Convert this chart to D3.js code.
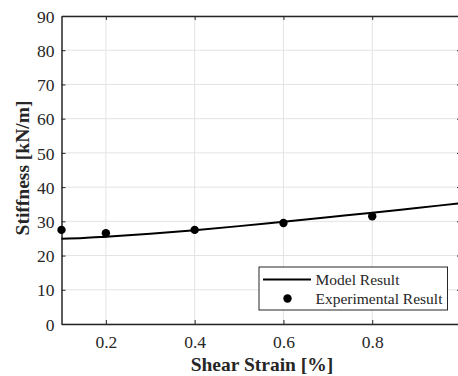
<!DOCTYPE html>
<html>
<head>
<meta charset="utf-8">
<script src="https://d3js.org/d3.v7.min.js"></script>
<style>
  body { margin: 0; background: #fff; }
  text { font-family: "Liberation Serif", "Times New Roman", serif; fill: #262626; }
</style>
</head>
<body>
<script>
// values
var modelStrain = [0.1, 0.15, 0.2, 0.3, 0.4, 0.5, 0.6, 0.7, 0.8, 0.9, 1.0];
var modelStiffness = [24.9, 25.1, 25.5, 26.4, 27.4, 28.6, 29.9, 31.2, 32.5, 33.9, 35.3];
var expStrain = [0.1, 0.2, 0.4, 0.6, 0.8];
var expStiffness = [27.5, 26.5, 27.5, 29.5, 31.5];
var xTicks = [0.2, 0.4, 0.6, 0.8];
var yTicks = [0, 10, 20, 30, 40, 50, 60, 70, 80, 90];

var margin = {top: 16, right: -3, bottom: 52, left: 61.5};
var width = 458 - margin.left - margin.right;
var height = 376 - margin.top - margin.bottom;

var svg = d3.select("body")
  .append("svg")
    .attr("width", 458)
    .attr("height", 376)
  .append("g")
    .attr("transform", "translate(" + margin.left + "," + margin.top + ")");

var x = d3.scaleLinear().domain([0.1, 1.0]).range([0, width]);
var y = d3.scaleLinear().domain([0, 90]).range([height, 0]);

// grid
svg.append("g")
  .selectAll("line")
    .data(xTicks)
  .enter().append("line")
    .attr("x1", function(d) { return x(d); })
    .attr("x2", function(d) { return x(d); })
    .attr("y1", 0)
    .attr("y2", height)
    .attr("stroke", "#e3e3e3")
    .attr("stroke-width", 1);
svg.append("g")
  .selectAll("line")
    .data(yTicks)
  .enter().append("line")
    .attr("x1", 0)
    .attr("x2", width)
    .attr("y1", function(d) { return y(d); })
    .attr("y2", function(d) { return y(d); })
    .attr("stroke", "#e3e3e3")
    .attr("stroke-width", 1);

// axes
var xAxis = svg.append("g")
  .attr("transform", "translate(0," + height + ")")
  .call(d3.axisBottom(x).tickValues(xTicks).tickSizeInner(-4).tickSizeOuter(0)
    .tickFormat(d3.format(".1f")));
var xTop = svg.append("g")
  .call(d3.axisTop(x).tickValues(xTicks).tickSizeInner(-4).tickSizeOuter(0).tickFormat(""));
var yAxis = svg.append("g")
  .call(d3.axisLeft(y).tickValues(yTicks).tickSizeInner(-4).tickSizeOuter(0));
var yRight = svg.append("g")
  .attr("transform", "translate(" + width + ",0)")
  .call(d3.axisRight(y).tickValues(yTicks).tickSizeInner(-4).tickSizeOuter(0).tickFormat(""));

[xAxis, xTop, yAxis, yRight].forEach(function(a) {
  a.select(".domain").attr("stroke", "#262626").attr("stroke-width", 1.5);
  a.selectAll(".tick line").attr("stroke", "#262626");
  a.selectAll("text")
    .style("font-family", "'Liberation Serif', serif")
    .style("font-size", "17.5px")
    .attr("fill", "#262626");
});
xAxis.selectAll("text").attr("dy", null).attr("y", 0).attr("transform", "translate(0,24)");
yAxis.selectAll("text").attr("x", -7).attr("dy", "0.35em");

// model line
var line = d3.line()
  .x(function(d, i) { return x(modelStrain[i]); })
  .y(function(d) { return y(d); })
  .curve(d3.curveMonotoneX);
svg.append("path")
  .datum(modelStiffness)
  .attr("d", line)
  .attr("fill", "none")
  .attr("stroke", "#000")
  .attr("stroke-width", 2);

// experimental points
svg.append("g")
  .selectAll("circle")
    .data(expStiffness)
  .enter().append("circle")
    .attr("cx", function(d, i) { return x(expStrain[i]); })
    .attr("cy", function(d) { return y(d); })
    .attr("r", 4.2)
    .attr("fill", "#000");

// axis labels
svg.append("text")
  .attr("x", 262 - margin.left)
  .attr("y", 371 - margin.top)
  .attr("text-anchor", "middle")
  .style("font-size", "19.5px")
  .style("font-weight", "bold")
  .text("Shear Strain [%]");
svg.append("text")
  .attr("transform", "translate(" + (29 - margin.left) + "," + (168 - margin.top) + ") rotate(-90)")
  .attr("text-anchor", "middle")
  .style("font-size", "19.5px")
  .style("font-weight", "bold")
  .text("Stiffness [kN/m]");

// legend
var legend = svg.append("g").attr("transform", "translate(" + (259 - margin.left) + "," + (267 - margin.top) + ")");
legend.append("rect")
  .attr("width", 188.5)
  .attr("height", 43)
  .attr("fill", "#fff")
  .attr("stroke", "#262626")
  .attr("stroke-width", 1);
legend.append("line")
  .attr("x1", 4).attr("x2", 52)
  .attr("y1", 12.5).attr("y2", 12.5)
  .attr("stroke", "#000")
  .attr("stroke-width", 2);
legend.append("circle")
  .attr("cx", 28.5).attr("cy", 31.5).attr("r", 4.2).attr("fill", "#000");
legend.append("text")
  .attr("x", 56.5).attr("y", 17.5)
  .style("font-size", "15.5px")
  .text("Model Result");
legend.append("text")
  .attr("x", 56.5).attr("y", 36.5)
  .style("font-size", "15.5px")
  .text("Experimental Result");
</script>
</body>
</html>
